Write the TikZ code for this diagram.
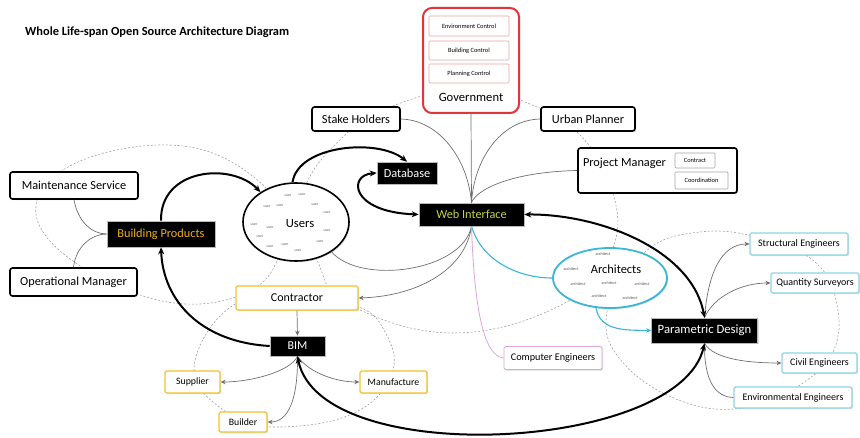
\documentclass[tikz,border=0pt]{standalone}
\usepackage{fontspec}
\setmainfont{Carlito}
\usetikzlibrary{shapes.geometric,arrows.meta,shadows}
\definecolor{yel}{HTML}{F2C230}
\definecolor{cyn}{HTML}{3BB6D6}
\definecolor{lcyn}{HTML}{8FD3E6}
\definecolor{pnk}{HTML}{D9A6D9}
\definecolor{gred}{HTML}{E0353B}
\definecolor{lred}{HTML}{EBA5A5}
\definecolor{webtxt}{HTML}{C9D14B}
\definecolor{bptxt}{HTML}{F0AE2A}
\definecolor{thin}{HTML}{6E6E6E}
\definecolor{dashc}{HTML}{9A9A9A}
\tikzset{
  shd/.style={drop shadow={shadow xshift=1.2pt,shadow yshift=-1.2pt,opacity=0.25}},
  box/.style={draw=black, line width=1.6pt, rounded corners=2.5pt, fill=white, inner sep=0pt,
    font=\fontsize{12.3}{14}\selectfont, shd},
  blk/.style={draw=gray!55, line width=0.6pt, fill=black, text=white, inner sep=0pt,
    font=\fontsize{12.3}{14}\selectfont, shd},
  ybox/.style={draw=yel, line width=1.3pt, rounded corners=1.5pt, fill=white, inner sep=0pt, shd},
  cbox/.style={draw=lcyn, line width=1.1pt, rounded corners=1.5pt, fill=white, inner sep=0pt,
    font=\fontsize{10}{12}\selectfont, shd},
  rbox/.style={draw=lred, line width=0.7pt, rounded corners=1pt, fill=white, inner sep=0pt,
    font=\fontsize{6.4}{7.5}\selectfont},
  gbox/.style={draw=gray!70, line width=0.7pt, rounded corners=1pt, fill=white, inner sep=0pt,
    font=\fontsize{6.4}{7.5}\selectfont},
  dsh/.style={draw=dashc, line width=0.55pt, dash pattern=on 2pt off 1.8pt},
  thinl/.style={draw=thin, line width=0.7pt},
  thk/.style={draw=black, line width=2pt},
  tip/.style={-{Stealth[length=5pt,width=4.5pt]}},
  ttip/.style={-{Stealth[length=7pt,width=6pt]}},
  ttipb/.style={{Stealth[length=7pt,width=6pt]}-{Stealth[length=7pt,width=6pt]}},
  word/.style={font=\fontsize{3.8}{4}\selectfont, text=gray!70!black, inner sep=0pt},
  aword/.style={font=\fontsize{4.2}{5}\selectfont, text=gray!70!black, inner sep=0pt},
}
\begin{document}
\begin{tikzpicture}[x=1pt,y=-1pt]
\useasboundingbox (0,0) rectangle (860,438);

% dashed relation loops
\draw[dsh] plot[smooth cycle, tension=0.7] coordinates {(60,172) (170,145) (255,178) (282,235) (248,292) (150,298) (45,235)};
\draw[dsh] plot[smooth cycle, tension=0.7] coordinates {(470,88) (398,104) (345,135) (303,195) (318,262) (350,305) (455,333) (565,303) (612,250) (612,190) (578,133) (525,102)};
\draw[dsh] plot[smooth cycle, tension=0.7] coordinates {(298,298) (232,306) (194,368) (226,412) (272,427) (352,414) (392,373) (384,330) (356,306)};
\draw[dsh] plot[smooth cycle, tension=0.7] coordinates {(645,252) (700,232) (760,238) (815,262) (837,305) (833,352) (800,385) (755,406) (690,404) (625,365) (607,312)};

% title
\node[anchor=west, inner sep=0pt, font=\bfseries\fontsize{12.4}{14}\selectfont] (title) at (25,32) {Whole Life-span Open Source Architecture Diagram};

% government
\node[draw=gred, line width=2pt, rounded corners=9pt, fill=white, minimum width=96pt, minimum height=105pt, inner sep=0pt, shd] (gov) at (471,60.5) {};
\node[rbox, minimum width=80pt, minimum height=20pt] (ec) at (469,26) {Environment Control};
\node[rbox, minimum width=80pt, minimum height=19pt] (bc) at (469,50.5) {Building Control};
\node[rbox, minimum width=80pt, minimum height=19pt] (pc) at (469,73.5) {Planning Control};
\node[font=\fontsize{12.6}{14}\selectfont, inner sep=0pt] (govt) at (471,97) {Government};

% top row
\node[box, minimum width=88pt, minimum height=24pt] (stake) at (356,119) {Stake Holders};
\node[box, minimum width=94pt, minimum height=24pt] (urban) at (588,119) {Urban Planner};
\node[box, minimum width=159pt, minimum height=45pt] (pm) at (657.5,170.5) {};
\node[font=\fontsize{12.3}{14}\selectfont, inner sep=0pt] (pmt) at (624.5,163) {Project Manager};
\node[gbox, minimum width=40pt, minimum height=15pt] (contract) at (695,160.5) {Contract};
\node[gbox, minimum width=53pt, minimum height=17pt] (coord) at (701.5,180.5) {Coordination};

\node[blk, minimum width=60pt, minimum height=22pt] (db) at (407,173) {Database};
\node[blk, minimum width=105pt, minimum height=23pt, text=webtxt] (web) at (471.5,214.5) {Web Interface};

% users
\node[draw=black, line width=1.6pt, ellipse, fill=white, minimum width=106pt, minimum height=78pt, inner sep=0pt, shd] (users) at (296,222) {};
\node[font=\fontsize{12.6}{14}\selectfont, inner sep=0pt] (userst) at (300,224) {Users};
\foreach \n/\p in {1/{(288,196)},2/{(302,195)},3/{(267,207)},4/{(280,206)},5/{(315,205)},6/{(327,213)},7/{(254,225)},8/{(270,228)},9/{(327,231)},10/{(260,237)},11/{(320,242)},12/{(270,247)},13/{(285,245)},14/{(298,251)}}
  \node[word] (u\n) at \p {user};

% left cluster
\node[box, minimum width=128pt, minimum height=27pt] (maint) at (74,185.5) {Maintenance Service};
\node[blk, minimum width=108pt, minimum height=26pt, text=bptxt] (bp) at (161,234) {Building Products};
\node[box, minimum width=127pt, minimum height=28pt] (oper) at (73.5,282) {Operational Manager};

% contractor / BIM cluster
\node[ybox, minimum width=122pt, minimum height=24pt, font=\fontsize{12}{14}\selectfont] (contr) at (297,298) {Contractor};
\node[blk, minimum width=55pt, minimum height=20pt, font=\fontsize{12}{14}\selectfont] (bim) at (297.5,346) {BIM};
\node[ybox, minimum width=55pt, minimum height=22pt, font=\fontsize{9.8}{11}\selectfont] (supp) at (192.5,382) {Supplier};
\node[ybox, minimum width=48pt, minimum height=20pt, font=\fontsize{9.8}{11}\selectfont] (build) at (243,422) {Builder};
\node[ybox, minimum width=67pt, minimum height=22pt, font=\fontsize{9.8}{11}\selectfont] (manu) at (393.5,382) {Manufacture};

% architects
\node[draw=cyn, line width=1.8pt, ellipse, fill=white, minimum width=114pt, minimum height=60pt, inner sep=0pt, shd] (arch) at (610,278) {};
\node[font=\fontsize{12.4}{14}\selectfont, inner sep=0pt] (archt) at (616,269) {Architects};
\foreach \n/\p in {1/{(603,254)},2/{(571,269)},3/{(578,284)},4/{(609,283)},5/{(642,284)},6/{(599,296)},7/{(630,298)}}
  \node[aword] (a\n) at \p {architect};

% right cluster
\node[blk, minimum width=106pt, minimum height=25pt, font=\fontsize{12.7}{14}\selectfont] (param) at (704.5,330.5) {Parametric Design};
\node[draw=pnk, line width=0.9pt, rounded corners=1.5pt, fill=white, inner sep=0pt, minimum width=98pt, minimum height=23pt, font=\fontsize{10.2}{12}\selectfont, shd] (comp) at (553,358) {Computer Engineers};
\node[cbox, minimum width=98pt, minimum height=22pt] (struct) at (799,244) {Structural Engineers};
\node[cbox, minimum width=88pt, minimum height=20pt] (quant) at (815,283) {Quantity Surveyors};
\node[cbox, minimum width=75pt, minimum height=20pt] (civil) at (819.5,363) {Civil Engineers};
\node[cbox, minimum width=118pt, minimum height=21pt] (env) at (793,397.5) {Environmental Engineers};

% thin connectors to web interface
\draw[thinl] (stake.east) .. controls (440,120) and (468,160) .. (web.north);
\draw[thinl] (gov.south) -- (web.north);
\draw[thinl] (urban.west) .. controls (500,120) and (474,160) .. (web.north);
\draw[thinl] (pm.west) .. controls (510,172) and (476,190) .. (web.north);
\draw[thinl] (users.-40) .. controls (360,285) and (462,272) .. (web.south);
\draw[thinl, tip] (web.south) .. controls (466,268) and (420,296) .. (contr.east);
\draw[draw=cyn, line width=1.1pt] (web.south) .. controls (482,262) and (520,278) .. (arch.west);
\draw[draw=pnk, line width=0.8pt] (web.south) .. controls (474,300) and (482,356) .. (comp.west);
\draw[draw=cyn, line width=1.1pt, tip] (arch.-115) .. controls (600,332) and (628,330) .. (param.west);

% left cluster connectors
\draw[thinl] (bp.west) .. controls (92,234) and (78,222) .. (maint.south);
\draw[thinl] (bp.west) .. controls (92,234) and (76,246) .. (oper.north);

% BIM cluster
\draw[thinl, tip] (contr.south) -- (bim.north);
\draw[thinl, tip] (bim.south) .. controls (290,372) and (250,382) .. (supp.east);
\draw[thinl, tip] (bim.south) .. controls (298,400) and (288,422) .. (build.east);
\draw[thinl, tip] (bim.south) .. controls (310,374) and (338,382) .. (manu.west);

% parametric cluster
\draw[thinl, tip] (param.north) .. controls (708,272) and (722,244) .. (struct.west);
\draw[thinl, tip] (param.north) .. controls (714,296) and (742,283) .. (quant.west);
\draw[thinl, tip] (param.south) .. controls (714,360) and (752,363) .. (civil.west);
\draw[thinl] (param.south) .. controls (704,382) and (716,397) .. (env.west);

% thick flows
\draw[thk, ttip] (users.95) .. controls (298,145) and (378,138) .. (db.north);
\draw[thk, ttipb] (db.west) .. controls (348,175) and (350,212) .. (web.west);
\draw[thk, ttip] (bp.north) .. controls (160,168) and (232,162) .. (users.140);
\draw[thk, ttip] (bim.west) .. controls (200,342) and (163,300) .. (bp.south);
\draw[thk, ttipb] (web.east) .. controls (600,214) and (692,250) .. (param.north);
\draw[thk, ttipb] (bim.south) .. controls (320,470) and (680,452) .. (param.south);
\end{tikzpicture}
\end{document}
